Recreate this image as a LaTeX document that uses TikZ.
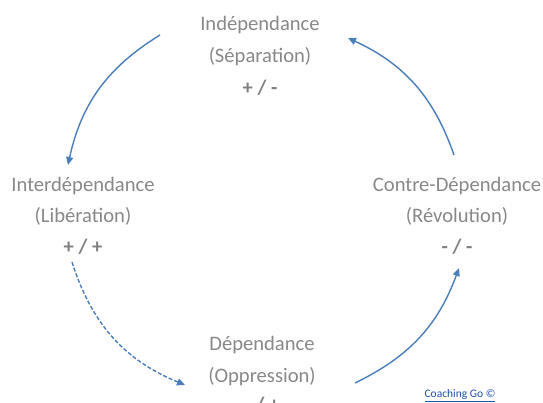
\documentclass[tikz,border=0pt]{standalone}
\usepackage{fontspec}
\setmainfont{Carlito}
\usetikzlibrary{arrows.meta}
\definecolor{txtgray}{RGB}{136,136,136}
\definecolor{sgngray}{RGB}{128,128,128}
\definecolor{arrblue}{RGB}{74,126,187}
\definecolor{linkblue}{RGB}{30,80,170}
\begin{document}
\begin{tikzpicture}[x=1pt,y=1pt,
  lbl/.style={inner sep=0pt,anchor=base,text=txtgray,font=\fontsize{20.6}{24}\selectfont},
  sgn/.style={lbl,text=sgngray,font=\fontsize{20.6}{24}\selectfont\bfseries},
  arr/.style={draw=arrblue,line width=1.4pt,-{Triangle[length=8pt,width=7pt]}}]
\useasboundingbox (0,0) rectangle (543,403);
% Indépendance (top)
\node[lbl] (i1) at (260,403-31) {Indépendance};
\node[lbl] (i2) at (260,403-63) {(Séparation)};
\node[sgn] (i3) at (260,403-95) {+ / -};
% Interdépendance (left)
\node[lbl] (l1) at (83,403-192) {Interdépendance};
\node[lbl] (l2) at (83,403-223) {(Libération)};
\node[sgn] (l3) at (83,403-254) {+ / +};
% Contre-Dépendance (right)
\node[lbl] (r1) at (457,403-192) {Contre-Dépendance};
\node[lbl] (r2) at (457,403-223) {(Révolution)};
\node[sgn] (r3) at (457,403-254) {- / -};
% Dépendance (bottom)
\node[lbl] (d1) at (262,403-351) {Dépendance};
\node[lbl] (d2) at (262,403-383) {(Oppression)};
\node[sgn] (d3) at (262,403-412) {- / +};
% copyright
\node[inner sep=0pt,anchor=base,text=linkblue,font=\fontsize{11.5}{13}\selectfont] (cg) at (460,403-397.5) {\underline{Coaching Go ©}};
% arc end points
\coordinate (a1s) at (160,403-35);
\coordinate (a1e) at (68,403-165);
\coordinate (a2s) at (72,403-262);
\coordinate (a2e) at (185,403-385);
\coordinate (a3s) at (355,403-383);
\coordinate (a3e) at (459,403-268);
\coordinate (a4s) at (454,403-155);
\coordinate (a4e) at (348,403-38);
\draw[arr] (a1s) to[bend right=23] (a1e);
\draw[arr,dash pattern=on 4pt off 2pt] (a2s) to[bend right=25] (a2e);
\draw[arr] (a3s) to[bend right=22] (a3e);
\draw[arr] (a4s) to[bend right=23] (a4e);
\end{tikzpicture}
\end{document}
